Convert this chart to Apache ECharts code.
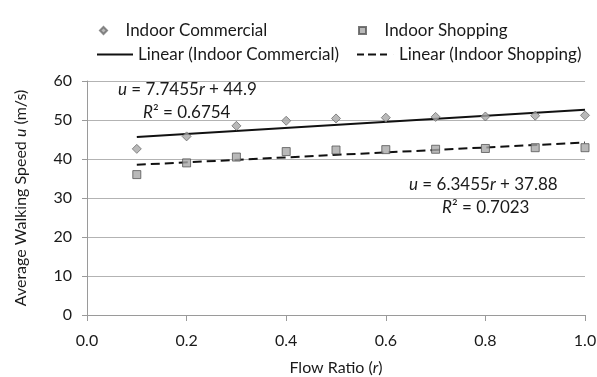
<!DOCTYPE html>
<html><head><meta charset="utf-8">
<script src="https://cdn.jsdelivr.net/npm/echarts@6/dist/echarts.min.js"></script>
<style>html,body{margin:0;padding:0;background:#fff}#c{width:597px;height:377px}</style>
</head><body><div id="c"></div>
<script>
var flowRatio = [0.1, 0.2, 0.3, 0.4, 0.5, 0.6, 0.7, 0.8, 0.9, 1.0];
var indoorCommercial = [42.6, 45.8, 48.5, 49.8, 50.4, 50.6, 50.8, 50.9, 51.1, 51.2];
var indoorShopping = [36.0, 39.0, 40.5, 41.9, 42.3, 42.4, 42.5, 42.7, 42.9, 42.9];
var trendX = [0.1, 1.0];
var trendCommercial = [45.67, 52.65];
var trendShopping = [38.51, 44.23];

function pairs(xs, ys){ return xs.map(function(x,i){ return [x, ys[i]]; }); }
var FONT = 'Lato';
var INK = '#1a1a1a';
var chart = echarts.init(document.getElementById('c'));
var lt = {fontFamily: FONT, fontSize: 17, color: INK};
var DIAMOND = 'path://M3.5,0L7,3.5L3.5,7L0,3.5Z';
var SQUARE = 'path://M0,0H6V6H0Z';
var SOLID = 'path://M0,0H36V2H0Z';
var DASHED = 'path://M0,0H7V2H0Z M11,0H19V2H11Z M23,0H30V2H23Z M36.95,0H37V2H36.95Z';
var richEq = {i: {fontFamily: FONT, fontSize: 17, fontStyle: 'italic', fill: INK}, n: {fontFamily: FONT, fontSize: 17, fill: INK}};
chart.setOption({
  backgroundColor: '#fff',
  animation: false,
  textStyle: {fontFamily: FONT},
  grid: {left: 87, right: 12, top: 81, bottom: 62, containLabel: false, outerBoundsMode: 'none'},
  legend: [
    {data: [{name: 'Indoor Commercial', icon: DIAMOND}], left: 94, top: 17, itemWidth: 34, itemHeight: 7, textStyle: lt, selectedMode: false},
    {data: [{name: 'Indoor Shopping', icon: SQUARE}], left: 353, top: 17, itemWidth: 34, itemHeight: 7, textStyle: lt, selectedMode: false},
    {data: [{name: 'Linear (Indoor Commercial)', icon: SOLID}], left: 92, top: 41, itemWidth: 36, itemHeight: 2, textStyle: lt, selectedMode: false},
    {data: [{name: 'Linear (Indoor Shopping)', icon: DASHED}], left: 352, top: 41, itemWidth: 37, itemHeight: 2, textStyle: lt, selectedMode: false}
  ],
  xAxis: {
    type: 'value', min: 0, max: 1, interval: 0.2,
    name: '{n|Flow Ratio (}{i|r}{n|)}', nameLocation: 'middle', nameGap: 45,
    nameTextStyle: {rich: {n: {fontFamily: FONT, fontSize: 16, color: INK}, i: {fontFamily: FONT, fontSize: 16, fontStyle: 'italic', color: INK}}},
    axisLine: {show: true, lineStyle: {color: '#9a9a9a'}},
    axisTick: {show: true, length: 6, lineStyle: {color: '#9a9a9a'}},
    splitLine: {show: false},
    axisLabel: {fontFamily: FONT, fontSize: 16, color: INK, margin: 18,
      formatter: function(v){ return v.toFixed(1); }}
  },
  yAxis: {
    type: 'value', min: 0, max: 60, interval: 10,
    name: '{n|Average Walking Speed }{i|u}{n| (m/s)}', nameLocation: 'middle', nameGap: 58, nameRotate: 90,
    nameTextStyle: {rich: {n: {fontFamily: FONT, fontSize: 16, color: INK}, i: {fontFamily: FONT, fontSize: 16, fontStyle: 'italic', color: INK}}},
    axisLine: {show: true, lineStyle: {color: '#9a9a9a'}},
    axisTick: {show: true, length: 5, lineStyle: {color: '#9a9a9a'}},
    splitLine: {show: true, lineStyle: {color: '#b3b3b3', width: 1}},
    axisLabel: {fontFamily: FONT, fontSize: 16, color: INK, margin: 15}
  },
  series: [
    {name: 'Linear (Indoor Commercial)', type: 'line', data: pairs(trendX, trendCommercial), symbol: 'none',
      lineStyle: {color: '#111', width: 2}, itemStyle: {color: '#111'}, z: 3},
    {name: 'Linear (Indoor Shopping)', type: 'line', data: pairs(trendX, trendShopping), symbol: 'none',
      lineStyle: {color: '#111', width: 2, type: [9, 5]}, itemStyle: {color: '#111'}, z: 3},
    {name: 'Indoor Commercial', type: 'scatter', data: pairs(flowRatio, indoorCommercial), symbol: 'diamond', symbolSize: 9,
      itemStyle: {color: '#a8a8a8', borderColor: '#6e6e6e', borderWidth: 1}, z: 4},
    {name: 'Indoor Shopping', type: 'scatter', data: pairs(flowRatio, indoorShopping), symbol: 'rect', symbolSize: 8,
      itemStyle: {color: '#a8a8a8', borderColor: '#555', borderWidth: 1}, z: 4}
  ],
  graphic: [
    {type: 'text', left: 118, top: 81, style: {rich: richEq, text: '{i|u}{n| = 7.7455}{i|r}{n| + 44.9}'}},
    {type: 'text', left: 143, top: 104, style: {rich: richEq, text: '{i|R}{n|² = 0.6754}'}},
    {type: 'text', left: 409, top: 176, style: {rich: richEq, text: '{i|u}{n| = 6.3455}{i|r}{n| + 37.88}'}},
    {type: 'text', left: 442, top: 199, style: {rich: richEq, text: '{i|R}{n|² = 0.7023}'}}
  ]
});
</script></body></html>
